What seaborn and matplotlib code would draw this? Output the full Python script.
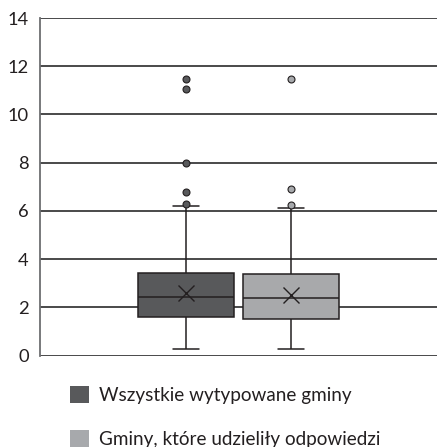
import seaborn as sns
import matplotlib.pyplot as plt
import matplotlib.patches as mpatches
import pandas as pd

# groups
groups = ["Wszystkie wytypowane gminy", "Gminy, które udzieliły odpowiedzi"]
colors = ["#58595b", "#a7a9ac"]

# box statistics: low whisker, Q1, median, Q3, high whisker
whisk_lo = [0.27, 0.27]
q1 = [1.59, 1.52]
med = [2.44, 2.40]
q3 = [3.44, 3.40]
whisk_hi = [6.21, 6.10]
means = [2.58, 2.51]
outliers = [[6.29, 6.77, 7.98, 11.06, 11.45], [6.24, 6.92, 11.45]]
yticks = [0, 2, 4, 6, 8, 10, 12, 14]


def sample(i):
    # 25 values whose linear percentiles hit q1 / median / q3 exactly
    above = [whisk_hi[i]] + outliers[i]
    above = [whisk_hi[i]] * (6 - len(above)) + above
    return ([whisk_lo[i]] * 6 + [q1[i]] * 6 + [med[i]] * 6 + [q3[i]]
            + above)


rows = []
for i, g in enumerate(groups):
    for v in sample(i):
        rows.append({"cat": "a", "grupa": g, "val": v})
df = pd.DataFrame(rows)
df_mean = pd.DataFrame({"cat": "a", "grupa": groups, "val": means})

sns.set_style("white")
plt.rcParams['font.family'] = ['Lato', 'DejaVu Sans']

fig = plt.figure(figsize=(4.37, 4.47), dpi=100)
ax = fig.add_axes([40 / 437, 1 - 355.5 / 447, 397 / 437, (355.5 - 18) / 447])

edge = "#231f20"
ax = sns.boxplot(data=df, x="cat", y="val", hue="grupa", hue_order=groups,
                 palette=colors, width=0.53, gap=0.08, whis=1.5,
                 linewidth=1.1, linecolor=edge, fliersize=5,
                 flierprops={"marker": "o", "markeredgecolor": edge,
                             "markeredgewidth": 0.8},
                 capwidths=0.066, legend=False, ax=ax)

# flier face colours follow the box colours
fl = [l for l in ax.lines if l.get_marker() == "o"]
for l, c in zip(fl, colors):
    l.set_markerfacecolor(c)

sns.pointplot(data=df_mean, x="cat", y="val", hue="grupa", hue_order=groups,
              palette=[edge, edge], dodge=0.265, errorbar=None,
              linestyle="none", marker="x", markersize=12,
              markeredgewidth=1.0, legend=False, ax=ax)

ax.set_xlim(-0.5, 0.5)
ax.set_ylim(0, 14)
ax.set_yticks(yticks)
ax.set_yticklabels([str(t) for t in yticks], fontsize=13.2, color=edge)
ax.set_xticks([])
ax.set_xlabel("")
ax.set_ylabel("")
ax.tick_params(axis="y", length=0, pad=8)
ax.yaxis.grid(True, color="#3a3a3c", linewidth=1.3)
ax.set_axisbelow(True)
for s in ["top", "right", "bottom"]:
    ax.spines[s].set_visible(False)
ax.spines["left"].set_color("#6d6e71")
ax.spines["left"].set_linewidth(1.3)

handles = [mpatches.Patch(facecolor=c, edgecolor="none", label=g)
           for g, c in zip(groups, colors)]
fig.legend(handles=handles, loc="upper left",
           bbox_to_anchor=(70 / 437, 1 - 386 / 447), frameon=False,
           fontsize=13.6, handlelength=1.0, handleheight=1.0,
           handletextpad=0.55, labelspacing=1.36, borderpad=0,
           borderaxespad=0, labelcolor=edge)

plt.savefig("out.png", dpi=100)
